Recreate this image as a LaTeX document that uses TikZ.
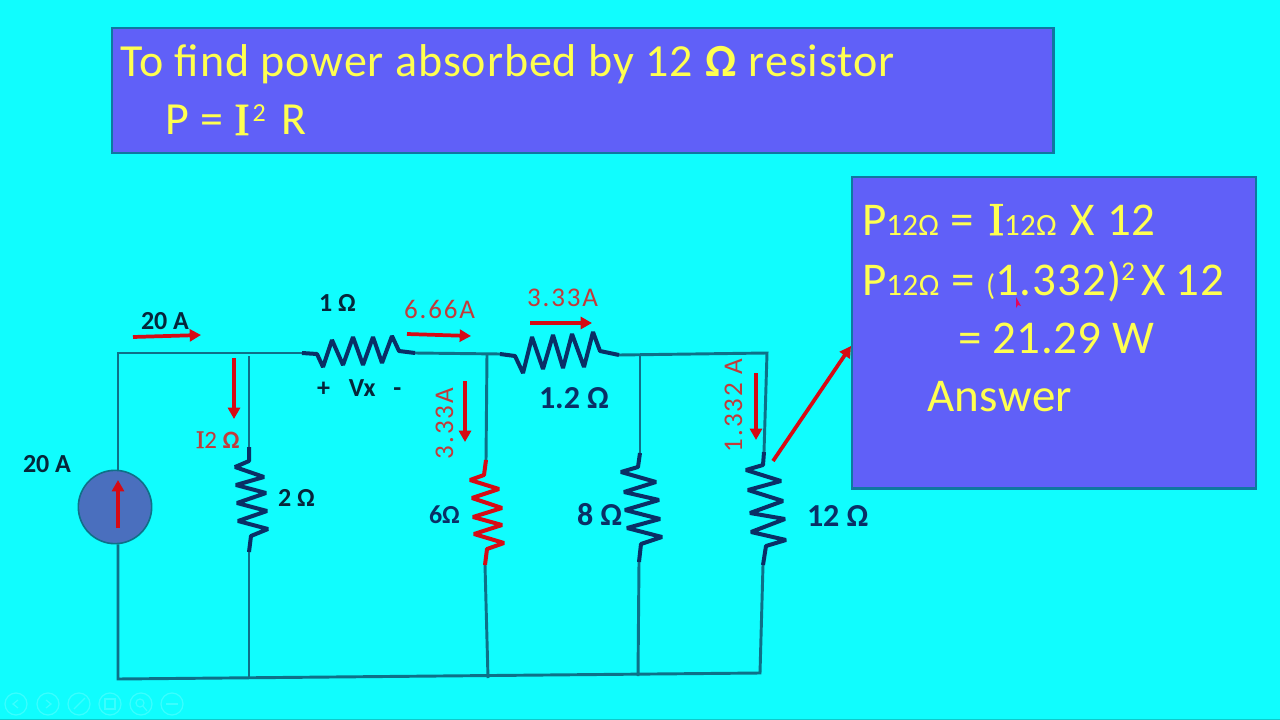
\documentclass[tikz,border=0pt]{standalone}
\usepackage{fontspec}
\setmainfont{Carlito}
\newfontfamily\serifI{Liberation Serif}[FakeBold=1.5]
\usetikzlibrary{arrows.meta}
\definecolor{bg}{HTML}{10FDFE}
\definecolor{boxfill}{HTML}{6060F8}
\definecolor{boxedge}{HTML}{0E78A0}
\definecolor{wire}{HTML}{0E7088}
\definecolor{navy}{HTML}{0A2F66}
\definecolor{redA}{HTML}{D60A14}
\definecolor{redT}{HTML}{C23A3A}
\definecolor{ylw}{HTML}{FFFF50}
\definecolor{ink}{HTML}{06263A}
\definecolor{srcfill}{HTML}{4A6FBE}
\newcommand{\px}[1]{\fontsize{\dimexpr#1pt*3/4\relax}{\dimexpr#1pt\relax}\selectfont}
\newcommand{\gap}[1]{\hspace*{\dimexpr#1pt*3/4\relax}}
\tikzset{
  panel/.style={draw=boxedge,line width=1.7pt,fill=boxfill},
  wireline/.style={draw=wire,line width=2.2pt,line join=miter},
  zig/.style={draw=navy,line width=3pt,line join=bevel},
  zigred/.style={draw=redA,line width=3pt,line join=bevel},
  redarrow/.style={draw=redA,line width=2.8pt,-{Triangle[length=8.5pt,width=9pt]}},
  txt/.style={anchor=base west,inner sep=0pt,outer sep=0pt},
  bigy/.style={txt,text=ylw},
  lab/.style={txt,text=ink,font=\px{26}\bfseries},
  labn/.style={txt,text=navy,font=\px{32}\bfseries},
  labr/.style={txt,text=redT,font=\px{27}\addfontfeatures{LetterSpace=7}},
  ctl/.style={draw=white!18!bg,line width=0.9pt},
}
\begin{document}
\begin{tikzpicture}[x=0.75pt,y=-0.75pt]
\useasboundingbox (0,0) rectangle (1280,720);
\fill[bg] (0,0) rectangle (1280,720);
\fill[bg!80!black] (0,719) rectangle (1280,720);
% panels
\node[panel,anchor=north west,minimum width=706pt,minimum height=93.5pt,inner sep=0pt] (title) at (111,27) {};
\node[panel,anchor=north west,minimum width=303pt,minimum height=233.5pt,inner sep=0pt] (calc) at (851,176) {};
\node[bigy,font=\px{46}\addfontfeatures{LetterSpace=2}] (t1) at (120,77) {To find power absorbed by 12 \textbf{Ω} resistor};
\node[bigy,font=\px{46}\addfontfeatures{LetterSpace=2}] (t2) at (165,135) {P = {\serifI I}\gap{3}\raisebox{0.3em}{\px{26}2}\gap{16}R};
\node[bigy,font=\px{47}\addfontfeatures{LetterSpace=1}] (c1) at (862,235) {P\px{31}12Ω\px{47} = \gap{4}{\serifI I}\px{31}12Ω\gap{3}\px{47} X\gap{1} 12};
\node[bigy,font=\px{47}\addfontfeatures{LetterSpace=2}] (c2) at (862,295) {P\px{31}12Ω\px{47} = {\px{30}(}1.332)\raisebox{0.3em}{\px{27}2}\gap{7}X\gap{-2} 12};
\node[bigy,font=\px{47}\addfontfeatures{LetterSpace=1}] (c3) at (958,353) {= 21.29 W};
\node[bigy,font=\px{47}\addfontfeatures{LetterSpace=1}] (c4) at (927,411) {Answer};
% junction and corner coordinates
\coordinate (tl) at (118,353);
\coordinate (bl) at (118,679);
\coordinate (br) at (760,673);
\coordinate (tr) at (767,353);
\coordinate (ja) at (249,353);
\coordinate (jb) at (487,354);
\coordinate (jc) at (640,354);
\coordinate (ka) at (249,679);
\coordinate (kb) at (488,678);
\coordinate (kc) at (638,676);
\coordinate (r1a) at (302,353);
\coordinate (r1b) at (415,353);
\coordinate (r12a) at (500,354);
\coordinate (r12b) at (619,355);
\coordinate (r2a) at (249,447);
\coordinate (r2b) at (249,552);
\coordinate (r6a) at (486,460);
\coordinate (r6b) at (485,565);
\coordinate (r8a) at (640,453);
\coordinate (r8b) at (639,562);
\coordinate (r12Oa) at (764,452);
\coordinate (r12Ob) at (763,565);
% source
\node[circle,draw=wire,line width=1.2pt,fill=srcfill,minimum size=55pt,inner sep=0pt] (src) at (115,507) {};
% wires
\draw[wireline] (src.north -| tl) -- (tl) -- (r1a);
\draw[wireline] (r1b) -- (r12a);
\draw[wireline] (r12b) -- (tr) -- (r12Oa);
\draw[wireline] (src.south -| bl) -- (bl) -- (br) -- (r12Ob);
\draw[wireline] (249,356) -- (r2a);
\draw[wireline] (r2b) -- (ka);
\draw[wireline] (jb) -- (r6a);
\draw[wireline] (r6b) -- (kb);
\draw[wireline] (jc) -- (r8a);
\draw[wireline] (r8b) -- (kc);
% resistors
\draw[zig] (r1a) -- (317,354) -- (323,367) -- (332,340) -- (343,365) -- (353,337) -- (363,365) -- (373,337) -- (382,363) -- (392,336) -- (399,351) -- (r1b);
\draw[zig] (r12a) -- (515,356) -- (523,373) -- (532,337) -- (543,369) -- (553,335) -- (563,368) -- (572,334) -- (584,367) -- (593,332) -- (600,351) -- (r12b);
\draw[zig] (r2a) -- (249,461) -- (235,467) -- (264,477) -- (236,485) -- (266,493) -- (237,503) -- (267,511) -- (238,521) -- (268,529) -- (251,536) -- (r2b);
\draw[zigred] (r6a) -- (484,475) -- (470,480) -- (499,489) -- (472,498) -- (502,508) -- (473,517) -- (502,525) -- (474,534) -- (504,543) -- (487,549) -- (r6b);
\draw[zig] (r8a) -- (638,467) -- (621,472) -- (656,482) -- (624,492) -- (659,500) -- (625,510) -- (660,519) -- (627,528) -- (662,537) -- (641,544) -- (r8b);
\draw[zig] (r12Oa) -- (763,465) -- (746,470) -- (781,481) -- (748,490) -- (783,501) -- (750,513) -- (785,519) -- (751,532) -- (786,540) -- (766,546) -- (r12Ob);
% current arrows
\coordinate (a1s) at (133,337); \coordinate (a1e) at (201,335);
\coordinate (a2s) at (234,358); \coordinate (a2e) at (234,419);
\coordinate (a3s) at (118,528); \coordinate (a3e) at (118,480);
\coordinate (a4s) at (407,334); \coordinate (a4e) at (471,336);
\coordinate (a5s) at (530,323); \coordinate (a5e) at (592,323);
\coordinate (a6s) at (465,381); \coordinate (a6e) at (465,442);
\coordinate (a7s) at (756,373); \coordinate (a7e) at (756,440);
\coordinate (a8s) at (773,461); \coordinate (a8e) at (851,346);
\draw[redarrow] (a1s) -- (a1e);
\draw[redarrow] (a2s) -- (a2e);
\draw[redarrow] (a3s) -- (a3e);
\draw[redarrow] (a4s) -- (a4e);
\draw[redarrow] (a5s) -- (a5e);
\draw[redarrow] (a6s) -- (a6e);
\draw[redarrow] (a7s) -- (a7e);
\draw[redarrow] (a8s) -- (a8e);
% labels
\node[lab] (l20top) at (141,329) {20 A};
\node[lab] (l20src) at (23,472) {20 A};
\node[lab] (l1) at (319,311) {1 Ω};
\node[lab] (lvx) at (317,396) {+\gap{19}Vx\gap{18}-};
\node[lab] (l2) at (278,506) {2 Ω};
\node[labn] (l12) at (539,408) {1.2 Ω};
\node[labn,font=\px{26}\bfseries] (l6) at (429,523) {6Ω};
\node[labn] (l8) at (577,525) {8 Ω};
\node[labn] (l12O) at (807,526) {12 Ω};
\node[labr,font=\px{25}] (li2) at (196,448) {{\serifI I}2 \textbf{Ω}};
\node[labr] (l666) at (404,318) {6.66A};
\node[labr] (l333) at (527,306) {3.33A};
\node[labr,rotate=90] (lv333) at (453,459) {3.33A};
\node[labr,rotate=90] (l1332) at (742,452) {1.332 A};
% mouse pointer
\fill[redA!70!magenta] (1016,297) -- (1021,306) -- (1018,305) -- (1016,308) -- cycle;
% slide-show controls
\foreach \cx in {16,48,79,110,141,172} \draw[ctl] (\cx,704) circle (11);
\draw[ctl] (18,700) -- (13,704) -- (18,708);
\draw[ctl] (46,700) -- (51,704) -- (46,708);
\draw[ctl] (74,709) -- (85,698);
\draw[ctl] (105,699) rectangle (115,709);
\draw[ctl] (140,703) circle (4) (143,706) -- (147,711);
\draw[ctl] (166,704) -- (178,704);
\end{tikzpicture}
\end{document}
